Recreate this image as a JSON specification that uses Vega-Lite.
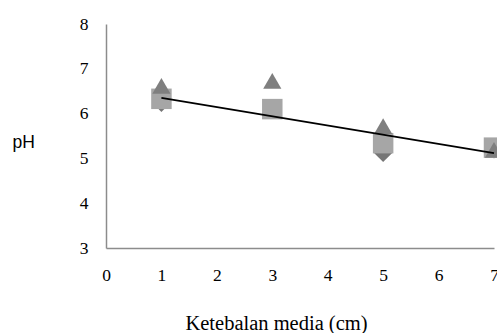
{
  "$schema": "https://vega.github.io/schema/vega-lite/v6.json",
  "width": 388,
  "height": 224,
  "autosize": {"type": "none"},
  "padding": {"left": 106, "top": 24, "right": 3, "bottom": 85},
  "background": "white",
  "config": {"view": {"stroke": null}},
  "datasets": {
    "pts": [
      {"x": 1, "ph": 6.24, "series": "A"},
      {"x": 3, "ph": 6.1, "series": "A"},
      {"x": 5, "ph": 5.12, "series": "A"},
      {"x": 7, "ph": 5.2, "series": "A"},
      {"x": 1, "ph": 6.33, "series": "B"},
      {"x": 3, "ph": 6.1, "series": "B"},
      {"x": 5, "ph": 5.34, "series": "B"},
      {"x": 7, "ph": 5.24, "series": "B"},
      {"x": 1, "ph": 6.62, "series": "C"},
      {"x": 3, "ph": 6.73, "series": "C"},
      {"x": 5, "ph": 5.72, "series": "C"},
      {"x": 7, "ph": 5.19, "series": "C"}
    ],
    "trend": [
      {"x": 1, "ph": 6.35},
      {"x": 7, "ph": 5.12}
    ]
  },
  "layer": [
    {
      "data": {"name": "pts"},
      "transform": [{"filter": "datum.series === 'A'"}],
      "mark": {"type": "point", "shape": "diamond", "filled": true, "size": 330, "color": "#767676", "opacity": 1, "clip": false},
      "encoding": {
        "x": {"field": "x", "type": "quantitative", "scale": {"domain": [0, 7], "nice": false, "zero": false},
          "axis": {"values": [0,1,2,3,4,5,6,7], "format": "d", "title": "Ketebalan media (cm)", "grid": false, "ticks": false,
            "domainColor": "#8c8c8c", "domainWidth": 1.5, "labelFont": "Liberation Serif", "labelFontSize": 17.5, "labelColor": "#000",
            "labelPadding": 18, "labelFlush": false,
            "titleFont": "Liberation Serif", "titleFontSize": 20.5, "titleFontWeight": "normal", "titleColor": "#000",
            "titleX": 170, "titleY": 81, "titleBaseline": "alphabetic", "titleAnchor": null}},
        "y": {"field": "ph", "type": "quantitative", "scale": {"domain": [3, 8], "nice": false, "zero": false},
          "axis": {"values": [3,4,5,6,7,8], "format": "d", "title": "pH", "grid": false, "ticks": false,
            "domainColor": "#8c8c8c", "domainWidth": 1.5, "labelFont": "Liberation Serif", "labelFontSize": 17.5, "labelColor": "#000",
            "labelPadding": 18,
            "titleFont": "Liberation Sans", "titleFontSize": 17.5, "titleFontWeight": "normal", "titleColor": "#000",
            "titleAngle": 0, "titleAlign": "left", "titleBaseline": "middle", "titleX": -94, "titleY": 118}}
      }
    },
    {
      "data": {"name": "pts"},
      "transform": [{"filter": "datum.series === 'B'"}],
      "mark": {"type": "point", "shape": "square", "filled": true, "size": 420, "color": "#a6a6a6", "opacity": 1, "clip": false},
      "encoding": {
        "x": {"field": "x", "type": "quantitative"},
        "y": {"field": "ph", "type": "quantitative"}
      }
    },
    {
      "data": {"name": "pts"},
      "transform": [{"filter": "datum.series === 'C'"}],
      "mark": {"type": "point", "shape": "triangle-up", "filled": true, "size": 330, "color": "#7f7f7f", "opacity": 1, "clip": false},
      "encoding": {
        "x": {"field": "x", "type": "quantitative"},
        "y": {"field": "ph", "type": "quantitative"}
      }
    },
    {
      "data": {"name": "trend"},
      "mark": {"type": "line", "color": "#000", "strokeWidth": 1.8},
      "encoding": {
        "x": {"field": "x", "type": "quantitative"},
        "y": {"field": "ph", "type": "quantitative"}
      }
    }
  ]
}
